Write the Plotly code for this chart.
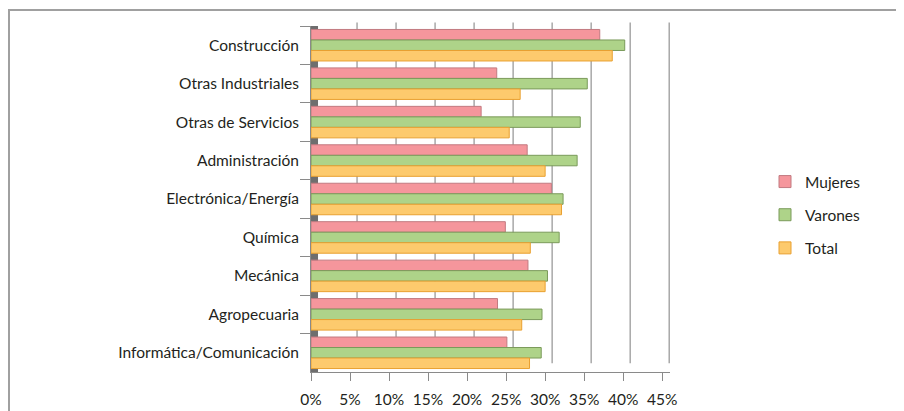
import plotly.graph_objects as go

categorias = ["Construcción", "Otras Industriales", "Otras de Servicios", "Administración",
              "Electrónica/Energía", "Química", "Mecánica", "Agropecuaria",
              "Informática/Comunicación"]
mujeres = [37.0, 23.8, 21.8, 27.7, 30.8, 24.9, 27.8, 23.9, 25.1]
varones = [40.2, 35.4, 34.5, 34.1, 32.3, 31.8, 30.3, 29.6, 29.5]
total = [38.6, 26.8, 25.4, 30.0, 32.1, 28.1, 30.0, 27.0, 28.0]
ticks_x = [0, 5, 10, 15, 20, 25, 30, 35, 40, 45]
tick_text = [f"{t}%" for t in ticks_x]

series = [
    ("Mujeres", mujeres, "#f5969c", "#c27a80"),
    ("Varones", varones, "#aed389", "#7a9a5a"),
    ("Total", total, "#fdca6d", "#e9a030"),
]

fig = go.Figure()
for nombre, vals, color, borde in series:
    fig.add_trace(go.Bar(
        y=categorias, x=vals, name=nombre, orientation="h",
        marker=dict(color=color, line=dict(color=borde, width=1)),
        legendgroup=nombre,
    ))

font = "Lato, 'Open Sans', sans-serif"
# the page sits 8px in from the window corner
L, T, B = 303, 18, 47
W, H = 904, 411
xmax = 46
pw = round(7.8 * xmax)
R = W - L - pw
ph = H - T - B
shift = 0.9  # back-wall offset of the grid

# grid on the back wall, a little right of the front ticks
shapes = [dict(type="line", xref="x", yref="paper", x0=v + shift, x1=v + shift,
               y0=0.025, y1=1.01, line=dict(color="#a8a8a8", width=1.5), layer="below")
          for v in ticks_x[1:]]
shapes += [
    dict(type="rect", xref="x", yref="paper", x0=0, x1=shift, y0=0, y1=1,
         fillcolor="#6e6e6e", line=dict(width=0), layer="below"),
    dict(type="rect", xref="paper", yref="paper",
         x0=(1 - L) / pw, x1=(915 - L) / pw,
         y0=-0.3, y1=1 + (T - 2) / ph,
         line=dict(color="#a0a0a0", width=2)),
]

fig.update_layout(
    width=W, height=H,
    margin=dict(l=L, r=R, t=T, b=B),
    paper_bgcolor="white", plot_bgcolor="white",
    barmode="group", bargap=0.18, bargroupgap=0,
    font=dict(family=font, size=15.5, color="#231f20"),
    legend=dict(x=(757 - L) / pw, y=1 - (207 - T) / ph, xanchor="left", yanchor="middle",
                traceorder="grouped", tracegroupgap=10, font=dict(size=15.5),
                itemwidth=30),
    showlegend=True,
    xaxis=dict(range=[0, xmax], tickvals=ticks_x, ticktext=tick_text,
               showgrid=False, ticks="outside", ticklen=8, tickcolor="#8a8a8a",
               ticklabelstandoff=5,
               showline=True, linecolor="#8a8a8a", linewidth=1,
               zeroline=False, automargin=False),
    yaxis=dict(autorange="reversed", tickson="boundaries", ticks="outside",
               ticklen=10, tickcolor="#8a8a8a", showline=True, linecolor="#8a8a8a",
               linewidth=1, automargin=False, ticksuffix="  "),
    shapes=shapes,
)

fig.write_html("out.html")
